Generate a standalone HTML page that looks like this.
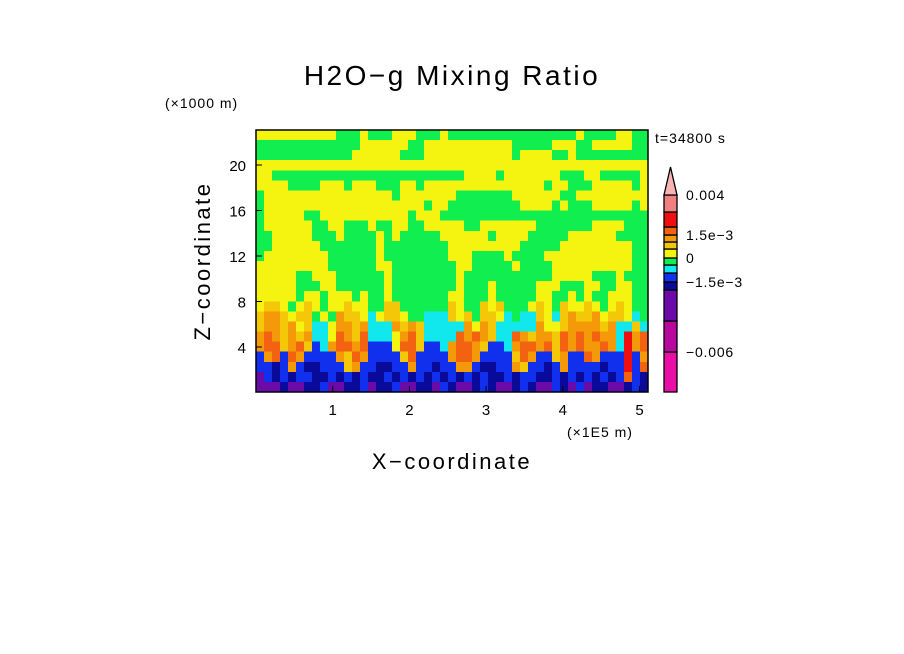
<!DOCTYPE html>
<html><head><meta charset="utf-8"><style>
body{margin:0;background:#fff;}
svg{display:block;font-family:"Liberation Sans",sans-serif;}
</style></head><body>
<svg width="904" height="654" viewBox="0 0 904 654">
<text x="452" y="85" text-anchor="middle" font-size="28" letter-spacing="2.5">H2O−g Mixing Ratio</text>
<text x="165" y="108" font-size="14" letter-spacing="1">(×1000 m)</text>
<text x="655" y="143" font-size="14" letter-spacing="1">t=34800 s</text>
<g id="field"></g>
<rect x="256" y="130" width="392" height="262" fill="none" stroke="#000" stroke-width="1.5"/>
<g id="axes"></g>
<text x="567" y="437" font-size="14" letter-spacing="1">(×1E5 m)</text>
<text x="452" y="469" text-anchor="middle" font-size="22" letter-spacing="2.5">X−coordinate</text>
<text transform="translate(210,261) rotate(-90)" text-anchor="middle" font-size="22" letter-spacing="2.5">Z−coordinate</text>
<g id="cbar"></g>
</svg>
<script>
const colors=["#e80ea6","#b8089e","#6a0aa8","#0a0a9a","#1030ee","#10e8ee","#10ee50","#f4f410","#f4c808","#f49a08","#f26210","#ee1010","#f08080"];
const gridRows=[
"7777777777666766677766676666666666666666766667766",
"6666666666666777777667777777777766666777667777766",
"6666666666667777776667777777777767777667666666666",
"7777777777777777777777777777777777777777777777777",
"7766666666666666666666666677776777777766677666667",
"7777666677767776667767777777777777776776667777767",
"6777777777777777767777777666666677777766777777777",
"6777777777777777777776776666666667777676667777767",
"6777776677777777777677766666666666666666666666666",
"6777777667766676677667777766777777766666667777666",
"6677777666766667676666677777767777666667777776666",
"6677777766666667666666667777777776666677777777766",
"6777777776666667666666667776666766667777777777766",
"7777777776666667766666666776666676666777777777766",
"7777766777666666766666666766666666666777776667666",
"7777766677666666766666666766676666677766677667766",
"7777767767776766766666667766676666677667676677766",
"7887678767787766886666668766878666787687787678766",
"8998788676988757887665558786887565587589889788756",
"8998978557998955598985555597985555597789999895585",
"9A98989557A98A55579A85555A9A9855A98998A9A9A995B9A",
"9AA89A8459AA9A4447AA84459AA984459AA9A8A9A99A95B9A",
"49A4A9444498A944448A44449AA944448A9448944A9444B49",
"4434943344489443344944344994334498443494444344B4A",
"2434344334343433434343434343433434433434343434A43",
"2223223342233423342233243223432234322432423322343"];
const xTicks=[1,2,3,4,5];
const yTicks=[4,8,12,16,20];
const cbarLabels=["-0.006","-1.5e-3","0","1.5e-3","0.004"];
const cbarLabelSeg=[0,3,6,9,12];
const cbarSizes=[40,31,31,8,9,8,7,9,7,7,8,15,17];

const NS="http://www.w3.org/2000/svg";
const X0=256,X1=648,Y0=130,Y1=392;
const xScale=v=>X0+v*76.7;
const yScale=v=>392.5-v*11.375;
const field=document.getElementById('field');
const nr=gridRows.length,nc=49,cw=(X1-X0)/nc,ch=(Y1-Y0)/nr;
gridRows.forEach((row,r)=>{
  for(let c=0;c<nc;c++){
    const k=parseInt(row[c]||row[row.length-1],16);
    const el=document.createElementNS(NS,'rect');
    el.setAttribute('x',X0+c*cw);el.setAttribute('y',Y0+r*ch);
    el.setAttribute('width',cw+0.6);el.setAttribute('height',ch+0.6);
    el.setAttribute('fill',colors[k]);el.setAttribute('shape-rendering','crispEdges');
    
    
    field.appendChild(el);
  }
});
const axes=document.getElementById('axes');
xTicks.forEach(t=>{
  const x=xScale(t);
  const l=document.createElementNS(NS,'line');
  l.setAttribute('x1',x);l.setAttribute('x2',x);l.setAttribute('y1',392);l.setAttribute('y2',386);l.setAttribute('stroke','#000');
  
  
  axes.appendChild(l);
  const tx=document.createElementNS(NS,'text');
  tx.setAttribute('x',x);tx.setAttribute('y',415);tx.setAttribute('text-anchor','middle');tx.setAttribute('font-size','15');
  tx.textContent=t;
  
  
  axes.appendChild(tx);
});
yTicks.forEach(t=>{
  const y=yScale(t);
  const l=document.createElementNS(NS,'line');
  l.setAttribute('x1',256);l.setAttribute('x2',262);l.setAttribute('y1',y);l.setAttribute('y2',y);l.setAttribute('stroke','#000');
  
  
  axes.appendChild(l);
  const tx=document.createElementNS(NS,'text');
  tx.setAttribute('x',246);tx.setAttribute('y',y+6);tx.setAttribute('text-anchor','end');tx.setAttribute('font-size','15');
  tx.textContent=t;
  
  
  axes.appendChild(tx);
});
const cb=document.getElementById('cbar');
let y=392;const segY=[];
cbarSizes.forEach((h,i)=>{
  y-=h;segY.push(y);
  const el=document.createElementNS(NS,'rect');
  el.setAttribute('x',664);el.setAttribute('y',y);el.setAttribute('width',13);el.setAttribute('height',h);
  el.setAttribute('fill',colors[i]);el.setAttribute('stroke','#000');el.setAttribute('stroke-width','1.3');
  
  
  cb.appendChild(el);
});
const tri=document.createElementNS(NS,'polygon');
tri.setAttribute('points',`664,${y} 677,${y} 670.5,167`);
tri.setAttribute('fill','#f8b4b4');tri.setAttribute('stroke','#000');tri.setAttribute('stroke-width','1.3');


cb.appendChild(tri);
cbarLabels.forEach((s,i)=>{
  const yy=segY[cbarLabelSeg[i]];
  const tx=document.createElementNS(NS,'text');
  tx.setAttribute('x',686);tx.setAttribute('y',yy+5);tx.setAttribute('font-size','14');
  tx.setAttribute('letter-spacing','0.8');
  tx.textContent=s.replace(/-/g,'−');
  
  
  cb.appendChild(tx);
});
</script>
</body></html>
